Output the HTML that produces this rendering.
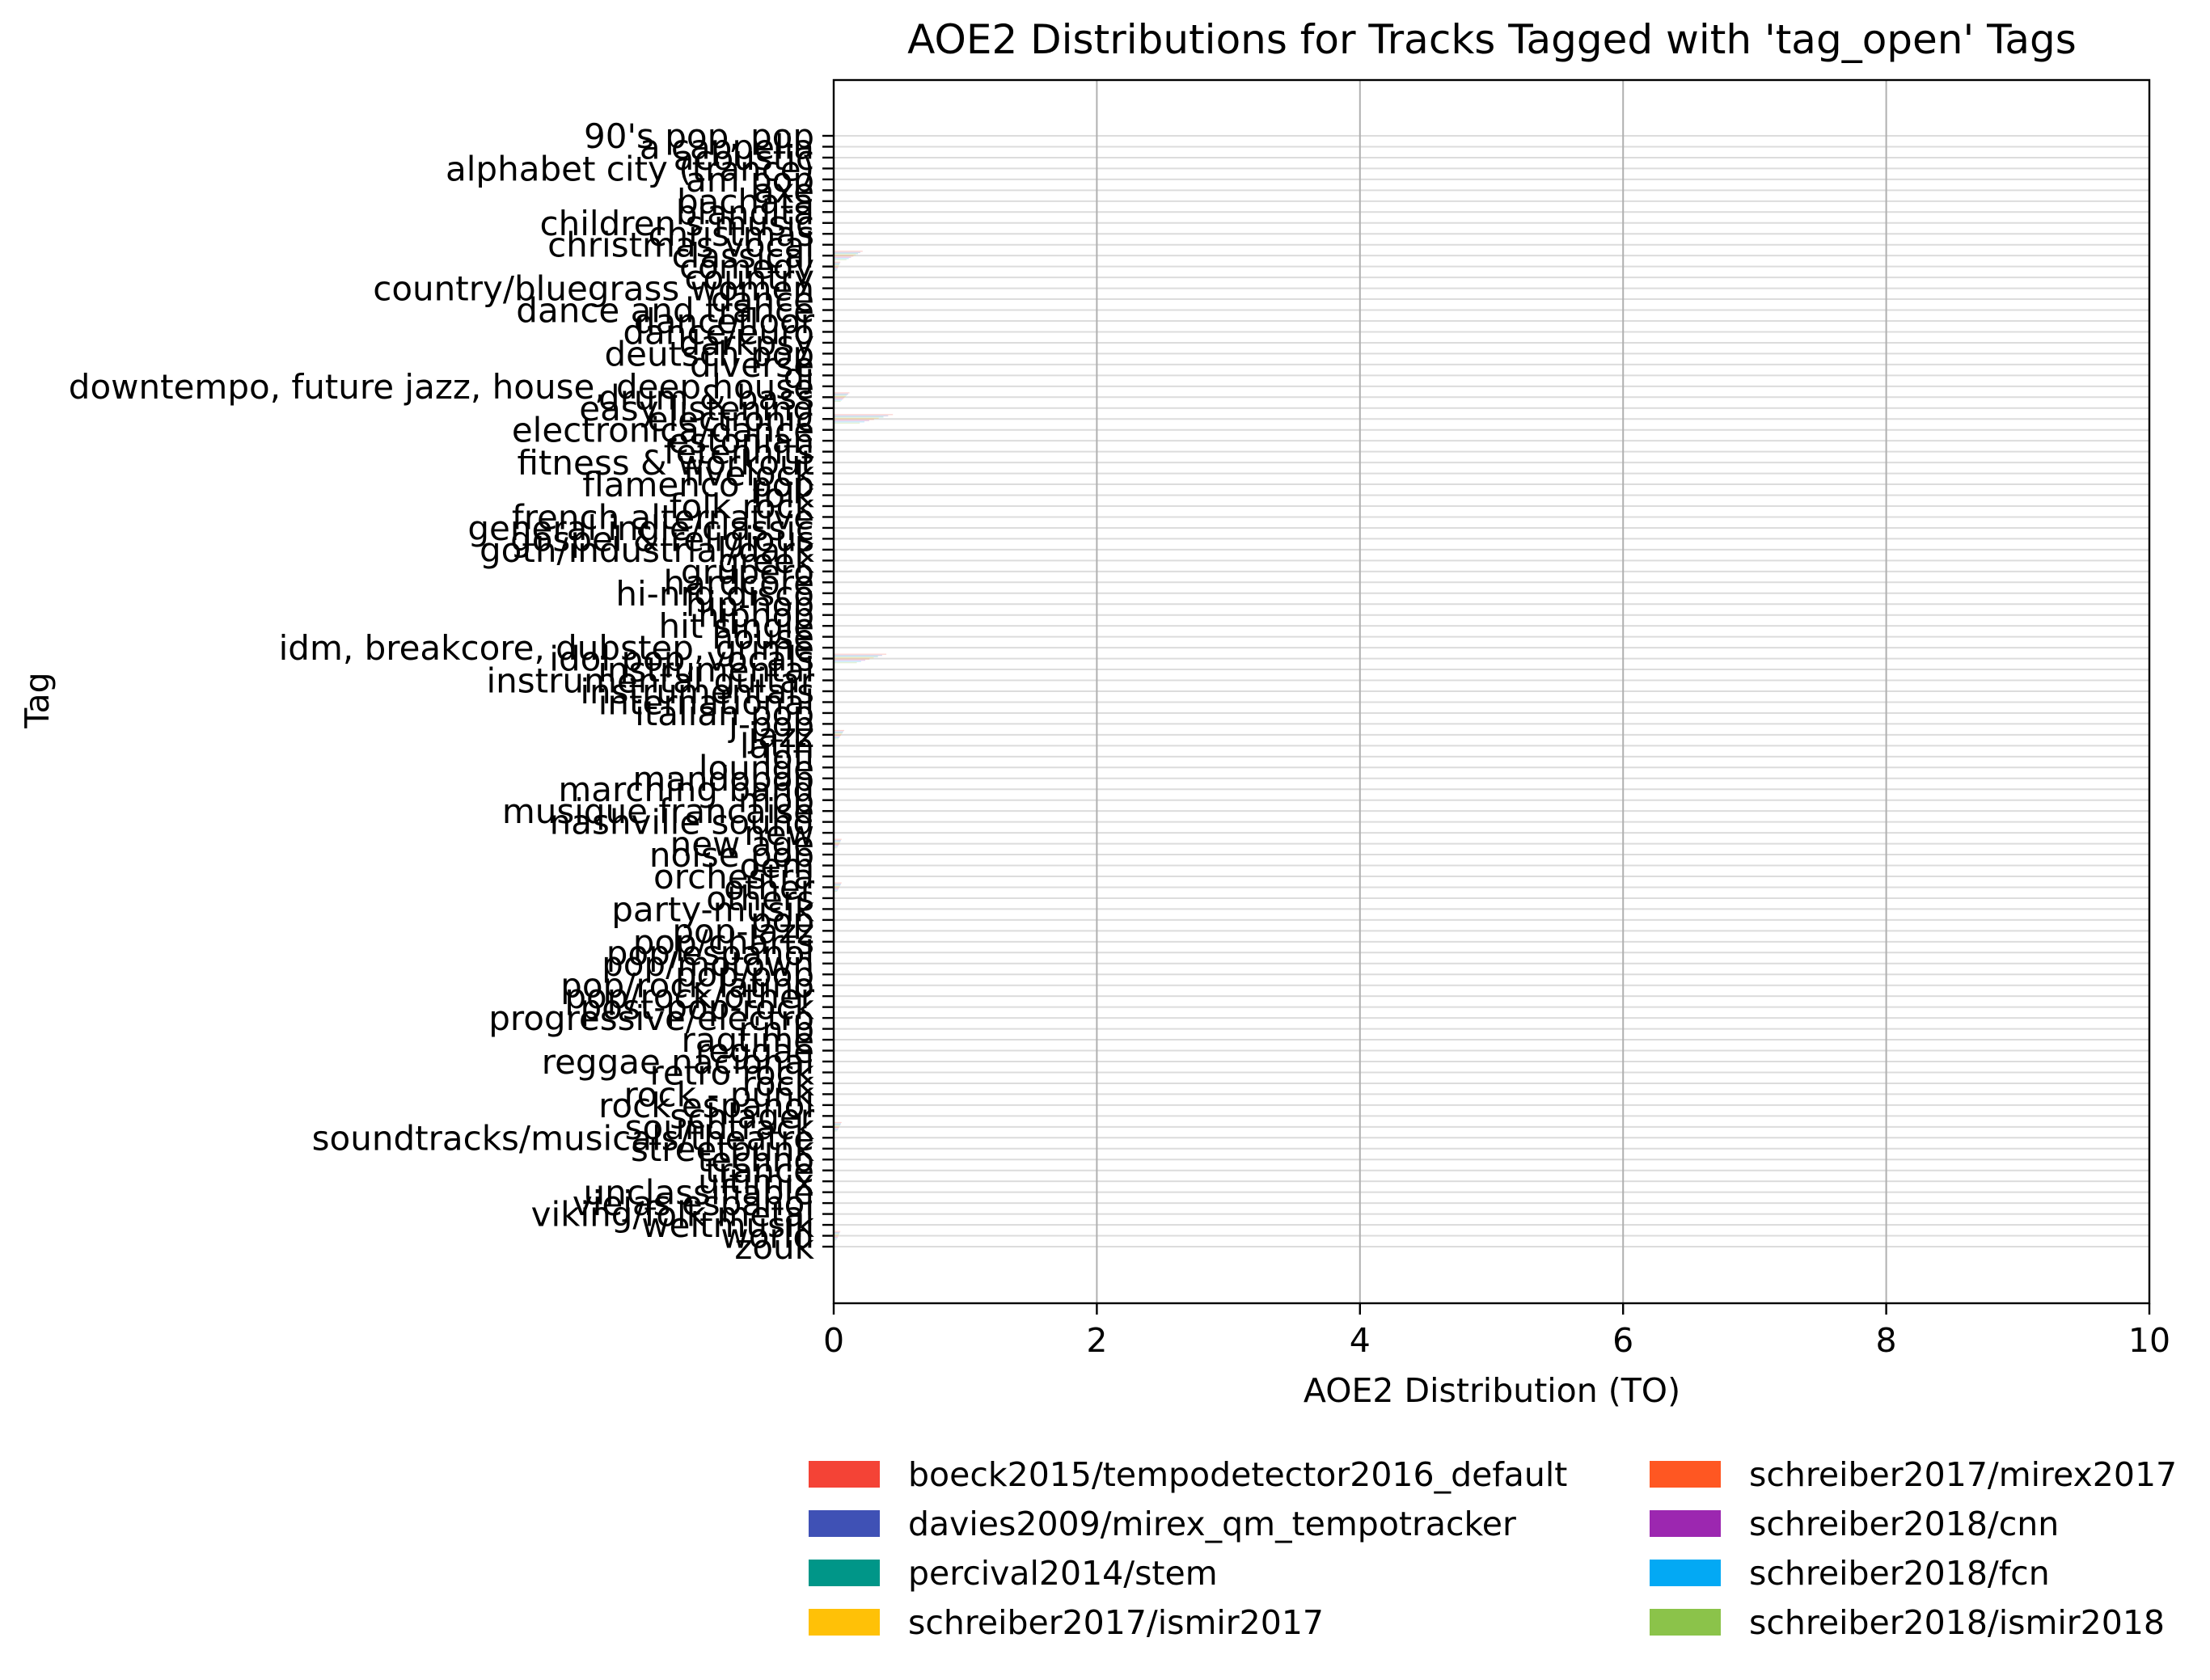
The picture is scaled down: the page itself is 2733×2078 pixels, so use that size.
<!DOCTYPE html>
<html><head><meta charset="utf-8"><style>
html,body{margin:0;padding:0;background:#fff;}
svg{display:block;font-family:"DejaVu Sans","Liberation Sans",sans-serif;}
</style></head><body>
<svg id="chart" width="2733" height="2078" viewBox="0 0 2733 2078" xmlns="http://www.w3.org/2000/svg">
<g id="grid"></g>
<g id="bars"></g>
<g id="axes"></g>
<text x="1845" y="66" font-size="50" text-anchor="middle">AOE2 Distributions for Tracks Tagged with 'tag_open' Tags</text>
<text x="1845" y="1734" font-size="41" text-anchor="middle">AOE2 Distribution (TO)</text>
<text x="0" y="0" font-size="41" text-anchor="middle" transform="translate(60,866) rotate(-90)">Tag</text>
<g id="legend"></g>
</svg>
<script>
const tags = ["90's pop, pop","a cappella","acoustic","alphabet city (trance)","am pop","axe","bachata","blandita","children's music","christmas","christmas vocal","classical","comedy","country","country/bluegrass women","dance","dance and trance","dancefloor","dance/euro","darkpsy","deutsch pop","diverse","dj","downtempo, future jazz, house, deep house","drum & bass","easy listening","electronic","electronica/dance","estonian","fetenhits","fitness & workout","fivelock","flamenco pop","folk","folk rock","french alternative","general indie/classic","gospel & religious","goth/industrial/dark","greek","grupero","hardcore","hi-nrg disco","hip-hop","hiphop","hit single","house","idm, breakcore, dubstep, grime","idol pop, vocals","instrumental","instrumental guitar","instrumentals","international","italian pop","j-pop","jazz","latin","lofi","lounge","mandopop","marching band","mpb","musique francaise","nashville sound","new","new age","noise pop","oem","orchestra","other","others","party-musik","pop","pop-jazz","pop/charts","pop/espanol","pop/motown","pop/pop","pop/rock latino","pop/rock/other","post-pop-rock","progressive/electro","r'n'b","ragtime","reggae","reggae nacional","retro rock","rock","rock - punk","rock espanol","schlager","soundtrack","soundtracks/musicals/theatre","streetpunk","techno","trance","ultimix","unclassifiable","viejas espanol","viking/folk metal","weltmusik","world","zouk"];
const seriesNames = ["boeck2015/tempodetector2016_default","davies2009/mirex_qm_tempotracker","percival2014/stem","schreiber2017/ismir2017","schreiber2017/mirex2017","schreiber2018/cnn","schreiber2018/fcn","schreiber2018/ismir2018"];
const seriesColors = ["#F44336","#3F51B5","#009688","#FFC107","#FF5722","#9C27B0","#03A9F4","#8BC34A"];
const highlightTags = ["classical","drum & bass","electronic","idol pop, vocals","jazz","new age","soundtrack","world","other","comedy"];
const highlightValues = [0.22,0.12,0.45,0.4,0.08,0.06,0.06,0.05,0.06,0.05];
const xTicks = [0,2,4,6,8,10];

const NS="http://www.w3.org/2000/svg";
const L=1031,R=2658,T=99,B=1612;
const x=v=>L+(v/10)*(R-L);
const y0=168,y1=1542;
const yPos=i=>y0+i*(y1-y0)/(tags.length-1);
function mk(tag,attrs,parent){const e=document.createElementNS(NS,tag);for(const k in attrs)e.setAttribute(k,attrs[k]);parent.appendChild(e);return e;}
const grid=document.getElementById('grid'),bars=document.getElementById('bars'),axes=document.getElementById('axes'),legend=document.getElementById('legend');

tags.forEach((t,i)=>{
  const g=mk('line',{x1:L,x2:R,y1:yPos(i),y2:yPos(i),stroke:'#dcdcdc','stroke-width':2},grid);
  
  
});
xTicks.forEach(v=>{
  const g=mk('line',{x1:x(v),x2:x(v),y1:T,y2:B,stroke:'#b0b0b0','stroke-width':2},grid);
  
  
});
highlightTags.forEach((t,j)=>{
  const i=tags.indexOf(t); if(i<0)return;
  seriesColors.forEach((c,s)=>{
    const v=highlightValues[j]*(1-s*0.08);
    const r=mk('rect',{x:x(0),y:yPos(i)-6+s*1.5,width:x(v)-x(0),height:1.2,fill:c,opacity:0.25},bars);
    
    
  });
});
const fr=mk('rect',{x:L,y:T,width:R-L,height:B-T,fill:'none',stroke:'#000','stroke-width':2.4},axes);


tags.forEach((t,i)=>{
  const tk=mk('line',{x1:L-14,x2:L,y1:yPos(i),y2:yPos(i),stroke:'#000','stroke-width':2.4},axes);
  
  
  const tx=mk('text',{x:L-24,y:yPos(i)+15,'font-size':42,'text-anchor':'end'},axes);
  tx.textContent=t;
  
  
});
xTicks.forEach(v=>{
  const tk=mk('line',{x1:x(v),x2:x(v),y1:B,y2:B+14,stroke:'#000','stroke-width':2.4},axes);
  
  
  const tx=mk('text',{x:x(v),y:B+60,'font-size':41,'text-anchor':'middle'},axes);
  tx.textContent=v;
  
  
});
seriesNames.forEach((n,s)=>{
  const col=s<4?0:1,row=s%4;
  const px=col?2040:1000,py=1807+row*61;
  const r=mk('rect',{x:px,y:py,width:88,height:33,fill:seriesColors[s]},legend);
  
  
  const tx=mk('text',{x:px+123,y:py+31,'font-size':41},legend);
  tx.textContent=n;
  
  
});
</script>
</body></html>
